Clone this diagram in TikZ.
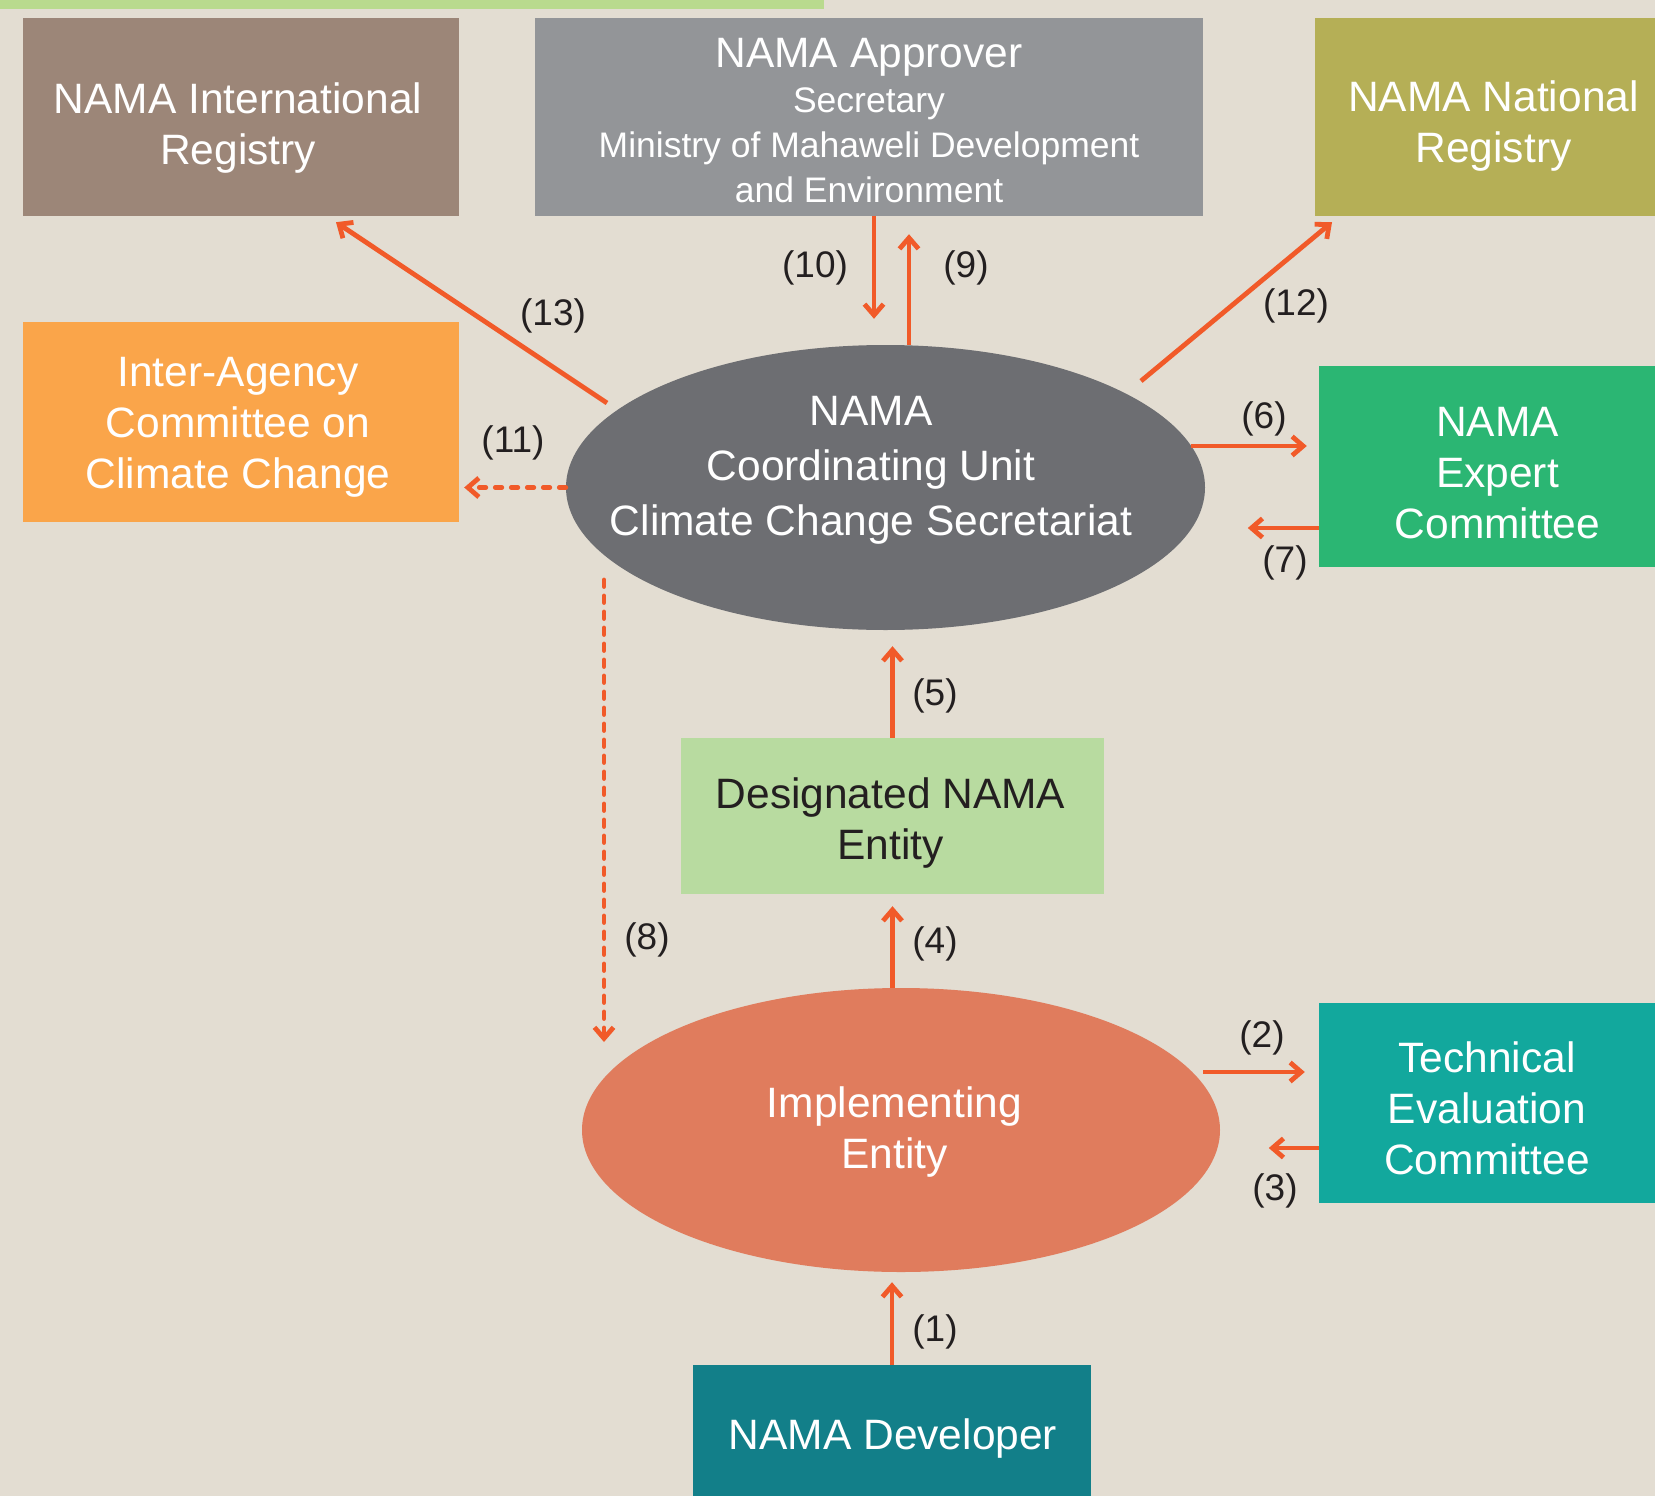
\documentclass[tikz,border=0pt]{standalone}
\usepackage{fontspec}
\setmainfont{Liberation Sans}
\usetikzlibrary{arrows.meta,shapes.geometric,calc}
\definecolor{bg}{HTML}{E3DDD2}
\definecolor{cbar}{HTML}{B9DA8E}
\definecolor{cbrown}{HTML}{9C8678}
\definecolor{cgray}{HTML}{939598}
\definecolor{colive}{HTML}{B5AF56}
\definecolor{corange}{HTML}{FAA54A}
\definecolor{cdark}{HTML}{6D6E72}
\definecolor{cgreen}{HTML}{2BB673}
\definecolor{cpale}{HTML}{B8DBA0}
\definecolor{csalmon}{HTML}{E07C5D}
\definecolor{cteal}{HTML}{12A89D}
\definecolor{cdteal}{HTML}{127F89}
\definecolor{carrow}{HTML}{F15A29}
\definecolor{ctext}{HTML}{231F20}
\newcommand{\bigf}{\fontsize{42.5}{51}\selectfont}
\newcommand{\cuf}{\fontsize{42.5}{55}\selectfont}
\newcommand{\smallf}{\fontsize{35.5}{45}\selectfont}
\newcommand{\lblf}{\fontsize{37}{44}\selectfont}
\begin{document}
\begin{tikzpicture}[x=1pt,y=-1pt,
  rbox/.style={rectangle, inner sep=0pt},
  txt/.style={inner sep=0pt, text=white, align=center, font=\bigf},
  oval/.style={ellipse, inner sep=0pt},
  arr/.style={draw=carrow, line width=4.8pt, -{Straight Barb[length=11pt,width=19pt]}},
  arrd/.style={arr, line cap=round, dash pattern=on 6.5pt off 9.5pt},
  lbl/.style={text=ctext, font=\lblf, inner sep=0pt}]
\fill[bg] (0,0) rectangle (1655,1496);
\useasboundingbox (0,0) rectangle (1655,1496);
\fill[cbar] (0,0) rectangle (824,9);

% boxes
\node[rbox, fill=cbrown, minimum width=436pt, minimum height=198pt] (intreg) at (241,117) {};
\node[txt] (intreg-t) at ($(intreg)+(-3,11.5)$) {NAMA International\\Registry};
\node[rbox, fill=cgray, minimum width=668pt, minimum height=198pt] (approver) at (869,117) {};
\node[txt, font=\smallf] (approver-t) at ($(approver)+(0,4)$) {{\bigf NAMA Approver}\\Secretary\\Ministry of Mahaweli Development\\and Environment};
\node[rbox, fill=colive, minimum width=340pt, minimum height=198pt] (natreg) at (1485,117) {};
\node[txt] (natreg-t) at ($(natreg)+(8.5,9)$) {NAMA National\\Registry};
\node[rbox, fill=corange, minimum width=436pt, minimum height=200pt] (interag) at (241,422) {};
\node[txt] (interag-t) at ($(interag)+(-3,5)$) {Inter-Agency\\Committee on\\Climate Change};
\node[rbox, fill=cgreen, minimum width=336pt, minimum height=201pt] (expert) at (1487,466.5) {};
\node[txt] (expert-t) at ($(expert)+(10.5,6.5)$) {NAMA\\Expert\\Committee};
\node[rbox, fill=cpale, minimum width=423pt, minimum height=156pt] (designated) at (892.5,816) {};
\node[txt, text=ctext] (designated-t) at ($(designated)+(-2,7.5)$) {Designated NAMA\\Entity};
\node[rbox, fill=cteal, minimum width=336pt, minimum height=200pt] (technical) at (1487,1103) {};
\node[txt] (technical-t) at ($(technical)+(0,5.5)$) {Technical\\Evaluation\\Committee};
\node[rbox, fill=cdteal, minimum width=398pt, minimum height=131pt] (developer) at (892,1430.5) {};
\node[txt] (developer-t) at ($(developer)+(1,7.5)$) {NAMA Developer};

% ellipses
\node[oval, fill=cdark, minimum width=639pt, minimum height=285pt] (cu) at (885.5,487.5) {};
\node[txt, font=\cuf] (cu-t) at (871,470.5) {NAMA\\Coordinating Unit\\Climate Change Secretariat};
\node[oval, fill=csalmon, minimum width=638pt, minimum height=284pt] (ie) at (901,1130) {};
\node[txt] (ie-t) at ($(ie)+(-6.5,1.5)$) {Implementing\\Entity};

% connectors
\draw[arr] ($(approver.south)+(5,0)$) -- ($(cu.north)+(-11.5,-26)$);
\draw[arr] ($(cu.north)+(23.5,0)$) -- ($(approver.south)+(40,18)$);
\draw[arr] ($(cu.center)+(-278.5,-84.5)$) -- ($(intreg.south)+(95,6)$);
\draw[arr] ($(cu.center)+(255.5,-106.5)$) -- ($(natreg.south)+(-153,6)$);
\draw[arrd, shorten >=5pt] (cu.west) -- (cu.west -| interag.east);
\coordinate (p6) at ($(cu.center)+(305.5,-41.5)$);
\draw[arr, shorten >=12pt] (p6) -- (p6 -| expert.west);
\coordinate (p7) at ($(expert.west)+(0,61.5)$);
\coordinate (q7) at ($(p7)+(-71,0)$);
\draw[arr] (p7) -- (q7);
\draw[arr, shorten >=16pt] (designated.north) -- (designated.north |- cu.south);
\draw[arr, shorten >=12pt] (designated.south |- ie.north) -- (designated.south);
\coordinate (p8) at ($(cu.center)+(-281.5,92.5)$);
\coordinate (q8) at ($(ie.center)+(-297,-88)$);
\draw[arrd] (p8) -- (q8);
\coordinate (p2) at ($(ie.center)+(302,-58)$);
\draw[arr, shorten >=14pt] (p2) -- (p2 -| technical.west);
\coordinate (p3) at ($(technical.west)+(0,45)$);
\coordinate (q3) at ($(p3)+(-50,0)$);
\draw[arr] (p3) -- (q3);
\draw[arr, shorten >=10pt] (developer.north) -- (developer.north |- ie.south);

% labels
\node[lbl] (l10) at (815,268) {(10)};
\node[lbl] (l9) at (966,268) {(9)};
\node[lbl] (l13) at (553,316) {(13)};
\node[lbl] (l12) at (1296,306) {(12)};
\node[lbl] (l11) at (513,443) {(11)};
\node[lbl] (l6) at (1264,419) {(6)};
\node[lbl] (l7) at (1285,563) {(7)};
\node[lbl] (l5) at (935,696) {(5)};
\node[lbl] (l4) at (935,944) {(4)};
\node[lbl] (l8) at (647,940) {(8)};
\node[lbl] (l2) at (1262,1038) {(2)};
\node[lbl] (l3) at (1275,1191) {(3)};
\node[lbl] (l1) at (935,1332) {(1)};
\end{tikzpicture}
\end{document}
